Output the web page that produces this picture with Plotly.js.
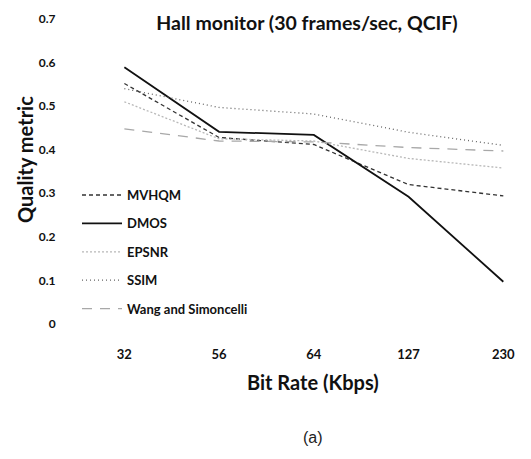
<!DOCTYPE html>
<html>
<head>
<meta charset="utf-8">
<script src="https://cdn.plot.ly/plotly-3.0.1.min.js"></script>
<style>html,body{margin:0;padding:0;background:#fff;}#chart{width:531px;height:459px;}</style>
</head>
<body>
<div id="chart"></div>
<script>
var categories = ['32', '56', '64', '127', '230'];
var mvhqm = [0.552, 0.428, 0.412, 0.320, 0.294];
var dmos  = [0.589, 0.441, 0.434, 0.292, 0.097];
var epsnr = [0.510, 0.425, 0.420, 0.380, 0.358];
var ssim  = [0.540, 0.497, 0.482, 0.440, 0.410];
var wang  = [0.448, 0.420, 0.418, 0.405, 0.397];
var yTicks = [0, 0.1, 0.2, 0.3, 0.4, 0.5, 0.6, 0.7];
var yTickText = ['0', '0.1', '0.2', '0.3', '0.4', '0.5', '0.6', '0.7'];

var FONT = 'Lato, "DejaVu Sans", sans-serif';

function tr(name, y, color, width, dash, grp) {
  return {x: categories, y: y, name: name, type: 'scatter', mode: 'lines',
          line: {color: color, width: width, dash: dash}, legendgroup: grp};
}
var data = [
  tr('MVHQM', mvhqm, '#333333', 1.3, '4px,3px', 'a'),
  tr('DMOS', dmos, '#111111', 1.8, 'solid', 'b'),
  tr('EPSNR', epsnr, '#b8b8b8', 1.3, '2px,2px', 'c'),
  tr('SSIM', ssim, '#666666', 1.3, '1px,3px', 'd'),
  tr('Wang and Simoncelli', wang, '#a8a8a8', 1.3, '10px,8px', 'e')
];

var layout = {
  width: 531, height: 459,
  margin: {l: 77, r: 4, t: 19, b: 135},
  paper_bgcolor: '#fff', plot_bgcolor: '#fff',
  font: {family: FONT, color: '#111'},
  title: {text: '<b>Hall monitor (30 frames/sec, QCIF)</b>', font: {size: 19.5, family: FONT, color: '#111'},
          x: 307/531, xanchor: 'center', xref: 'container', y: 1 - 23/459, yanchor: 'middle', yref: 'container'},
  xaxis: {type: 'category', range: [-0.5, 4.25], showgrid: false, zeroline: false, showline: false,
          ticks: 'outside', ticklen: 18, tickcolor: 'rgba(0,0,0,0)',
          tickfont: {size: 13, family: FONT, color: '#111', weight: 'bold'}},
  yaxis: {range: [0, 0.7], tickvals: yTicks, ticktext: yTickText, showgrid: false, zeroline: false, showline: false,
          ticks: 'outside', ticklen: 18, tickcolor: 'rgba(0,0,0,0)',
          tickfont: {size: 12, family: FONT, color: '#111', weight: 'bold'}},
  showlegend: true,
  legend: {x: 0, xanchor: 'left', y: 0.472, yanchor: 'top', bgcolor: 'rgba(0,0,0,0)',
           font: {size: 13, family: FONT, color: '#111', weight: 'bold'},
           tracegroupgap: 8.5, itemwidth: 40},
  annotations: [
    {text: '<b>Quality metric</b>', xref: 'paper', yref: 'paper', x: -77/450 + 25/450, y: (324-160)/305,
     xanchor: 'center', yanchor: 'middle', textangle: -90, showarrow: false,
     font: {size: 20, family: FONT, color: '#111'}},
    {text: '<b>Bit Rate (Kbps)</b>', xref: 'paper', yref: 'paper', x: (313-77)/450, y: (324-382)/305,
     xanchor: 'center', yanchor: 'middle', showarrow: false,
     font: {size: 20, family: FONT, color: '#111'}},
    {text: '(a)', xref: 'paper', yref: 'paper', x: (313-77)/450, y: (324-437)/305,
     xanchor: 'center', yanchor: 'middle', showarrow: false,
     font: {size: 16, family: '"Liberation Sans", Arial, sans-serif', color: '#222'}}
  ]
};

Plotly.newPlot('chart', data, layout, {displayModeBar: false, staticPlot: true});
</script>
</body>
</html>
